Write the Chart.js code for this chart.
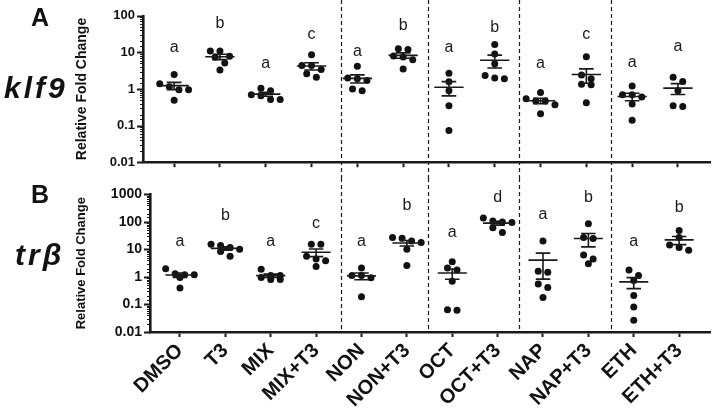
<!DOCTYPE html>
<html>
<head>
<meta charset="utf-8">
<script src="https://cdn.jsdelivr.net/npm/chart.js@4.4.1/dist/chart.umd.min.js"></script>
<style>
  html, body { margin: 0; padding: 0; background: #fff; }
  #wrap { position: relative; width: 715px; height: 417px; }
  .panel { position: absolute; left: 0; width: 715px; }
</style>
</head>
<body>
<div id="wrap">
  <div class="panel" style="top:0;height:178px"><canvas id="chartA"></canvas></div>
  <div class="panel" style="top:178px;height:239px"><canvas id="chartB"></canvas></div>
</div>
<script>
// treatment groups (x axis)
const groups = ['DMSO', 'T3', 'MIX', 'MIX+T3', 'NON', 'NON+T3', 'OCT', 'OCT+T3', 'NAP', 'NAP+T3', 'ETH', 'ETH+T3'];

// klf9 relative fold change, one list per group
const klf9Values = [
  [2.5, 1.4, 1.15, 0.95, 0.95, 0.49],
  [11, 11, 7.8, 7.4, 5.1, 3.3],
  [1.05, 0.9, 0.7, 0.65, 0.52, 0.52],
  [8.6, 4.4, 4.4, 3.4, 2.6, 2.1],
  [4.2, 2.0, 1.9, 1.7, 1.0, 0.9],
  [12.5, 12, 8, 7.5, 6.3, 3.5],
  [2.7, 1.57, 0.9, 0.35, 0.073],
  [16.4, 9, 4.9, 2.35, 2.0, 1.9],
  [0.8, 0.54, 0.47, 0.47, 0.37, 0.21],
  [7.6, 2.4, 1.9, 1.35, 1.3, 0.42],
  [1.2, 0.7, 0.7, 0.6, 0.39, 0.14],
  [2.1, 1.6, 0.9, 0.35, 0.33]
];
const klf9Letters = ['a', 'b', 'a', 'c', 'a', 'b', 'a', 'b', 'a', 'c', 'a', 'a'];
const klf9LetterAt = [13.7, 62, 4.9, 30, 10.8, 55, 13.7, 48, 4.9, 30, 5.2, 14.6];

// trb relative fold change
const trbValues = [
  [2.0, 1.3, 1.2, 1.2, 0.95, 0.4],
  [15.5, 14, 11.7, 10.2, 8.4, 5.6],
  [1.9, 1.12, 1.12, 0.95, 0.81, 0.81],
  [15.5, 15.5, 5.6, 4.5, 3.9, 2.4],
  [2.1, 1.12, 1.12, 0.93, 0.19],
  [27, 25.5, 20.4, 17.7, 10.2, 2.6],
  [3.6, 2.1, 1.8, 0.7, 0.064, 0.062],
  [140, 107, 100, 95, 61, 41],
  [20.4, 1.6, 1.48, 0.56, 0.41, 0.18],
  [85, 27, 25, 6.3, 4.5, 3.0],
  [1.8, 1.12, 0.74, 0.21, 0.081, 0.027],
  [49, 27, 14.6, 11.7, 9.4]
];
const trbLetters = ['a', 'b', 'a', 'c', 'a', 'b', 'a', 'd', 'a', 'b', 'a', 'b'];
const trbLetterAt = [20, 170, 20, 89, 20, 400, 40, 780, 186, 740, 18.7, 340];

// dashed separators between treatment pairs (x units of panel A)
const dividers = [3.65, 5.55, 7.53, 9.53];

const FONT = "'Liberation Sans', Arial, sans-serif";
const INK = '#1a1a1a';

// dot-plot layout: points at about the same height share a row, centred on the group
function spread(vals, tol, step) {
  const order = vals.map((v, k) => k).sort((a, b) => vals[b] - vals[a]);
  const offs = new Array(vals.length).fill(0);
  let row = [];
  const flush = () => {
    row.forEach((k, j) => { offs[k] = (j - (row.length - 1) / 2) * step; });
    row = [];
  };
  order.forEach(k => {
    if (row.length && Math.log10(vals[row[0]]) - Math.log10(vals[k]) > tol) flush();
    row.push(k);
  });
  flush();
  return offs;
}

function toPoints(values, tol) {
  const pts = [];
  values.forEach((vals, i) => {
    const offs = spread(vals, tol, 0.21);
    vals.forEach((v, k) => pts.push({ x: i + offs[k], y: v }));
  });
  return pts;
}

function isDecade(v) {
  const l = Math.log10(v);
  return Math.abs(l - Math.round(l)) < 1e-6;
}

// mean +/- SEM bars and the letters above each group
const groupMarks = {
  id: 'groupMarks',
  afterDatasetsDraw(chart, args, opts) {
    const { ctx } = chart;
    const x = chart.scales.x, y = chart.scales.y;
    ctx.save();
    ctx.strokeStyle = INK;
    ctx.lineWidth = 1.6;
    opts.values.forEach((vals, i) => {
      const n = vals.length;
      const mean = vals.reduce((a, b) => a + b, 0) / n;
      const sd = Math.sqrt(vals.reduce((a, b) => a + (b - mean) ** 2, 0) / (n - 1));
      const sem = sd / Math.sqrt(n);
      const cx = x.getPixelForValue(i);
      const hw = x.getPixelForValue(i + 0.32) - cx;
      const cw = x.getPixelForValue(i + 0.16) - cx;
      const ym = y.getPixelForValue(mean);
      const yt = y.getPixelForValue(mean + sem);
      const yb = y.getPixelForValue(mean - sem);
      ctx.beginPath();
      ctx.moveTo(cx - hw, ym); ctx.lineTo(cx + hw, ym);
      ctx.moveTo(cx - cw, yt); ctx.lineTo(cx + cw, yt);
      ctx.moveTo(cx - cw, yb); ctx.lineTo(cx + cw, yb);
      ctx.moveTo(cx, yt); ctx.lineTo(cx, yb);
      ctx.stroke();
    });
    ctx.fillStyle = INK;
    ctx.font = '16px ' + FONT;
    ctx.textAlign = 'center';
    ctx.textBaseline = 'middle';
    opts.letters.forEach((t, i) => {
      ctx.fillText(t, x.getPixelForValue(i), y.getPixelForValue(opts.letterAt[i]));
    });
    ctx.restore();
  },
  afterDraw(chart) {
    // log axis tick marks: long for decades, short in between
    const { ctx, chartArea } = chart;
    const y = chart.scales.y;
    ctx.save();
    ctx.strokeStyle = INK;
    y.ticks.forEach(t => {
      const py = Math.round(y.getPixelForValue(t.value)) + 0.5;
      const major = isDecade(t.value);
      ctx.lineWidth = major ? 2 : 1;
      ctx.beginPath();
      ctx.moveTo(chartArea.left, py);
      ctx.lineTo(chartArea.left - (major ? 6 : 3), py);
      ctx.stroke();
    });
    ctx.restore();
  }
};

// dashed dividers and the panel labels
const panelDecor = {
  id: 'panelDecor',
  afterDraw(chart, args, opts) {
    const { ctx, chartArea } = chart;
    const xs = opts.dividerScale ? opts.dividerScale() : chart.scales.x;
    ctx.save();
    ctx.strokeStyle = INK;
    ctx.lineWidth = 1.2;
    ctx.setLineDash([4, 3]);
    dividers.forEach(d => {
      const px = Math.round(xs.getPixelForValue(d)) + 0.5;
      ctx.beginPath();
      ctx.moveTo(px, 0);
      ctx.lineTo(px, opts.toBottom ? chart.height : chartArea.bottom);
      ctx.stroke();
    });
    ctx.setLineDash([]);
    ctx.fillStyle = '#111';
    ctx.textBaseline = 'alphabetic';
    ctx.textAlign = 'left';
    ctx.font = 'bold 25px ' + FONT;
    ctx.fillText(opts.letter, opts.letterPos[0], opts.letterPos[1]);
    ctx.font = 'italic bold 30px ' + FONT;
    ctx.letterSpacing = '3px';
    ctx.fillText(opts.gene, opts.genePos[0], opts.genePos[1]);
    ctx.restore();
  }
};

function makeChart(canvasId, values, letters, letterAt, cfg) {
  return new Chart(document.getElementById(canvasId), {
    type: 'scatter',
    data: {
      datasets: [{
        data: toPoints(values, cfg.tol),
        backgroundColor: '#111',
        borderWidth: 0,
        pointRadius: 3.5,
        pointHoverRadius: 3.5
      }]
    },
    options: {
      responsive: true,
      maintainAspectRatio: false,
      animation: false,
      layout: { padding: { left: 70, right: 5, top: cfg.top, bottom: 0 } },
      plugins: {
        legend: { display: false },
        tooltip: { enabled: false },
        groupMarks: { values: values, letters: letters, letterAt: letterAt },
        panelDecor: cfg.decor
      },
      scales: {
        x: {
          type: 'linear',
          min: cfg.xMin,
          max: cfg.xMax,
          afterBuildTicks: s => { s.ticks = groups.map((g, i) => ({ value: i })); },
          afterFit: s => { s.height = cfg.xHeight; },
          ticks: {
            display: cfg.showLabels,
            autoSkip: false,
            minRotation: 45,
            maxRotation: 45,
            padding: 2,
            color: '#111',
            font: { family: FONT, size: 20, weight: 'bold' },
            callback: v => groups[v]
          },
          grid: { drawOnChartArea: false, drawTicks: true, tickLength: 5, tickWidth: 2, tickColor: INK, color: INK },
          border: { display: true, width: 2.6, color: INK }
        },
        y: {
          type: 'logarithmic',
          min: 0.01,
          max: cfg.yMax,
          afterFit: s => { s.width = cfg.yWidth; },
          ticks: {
            autoSkip: false,
            padding: 8,
            color: '#111',
            font: { family: FONT, size: cfg.tickSize, weight: 'bold' },
            callback: v => isDecade(v) ? String(10 ** Math.round(Math.log10(v))) : ''
          },
          grid: { display: false, drawTicks: false },
          border: { display: true, width: 2.6, color: INK },
          title: {
            display: true,
            text: 'Relative Fold Change',
            color: '#111',
            padding: { top: 4, bottom: 4 },
            font: { family: FONT, size: cfg.titleSize, weight: 'bold' }
          }
        }
      }
    },
    plugins: [groupMarks, panelDecor]
  });
}

const chartA = makeChart('chartA', klf9Values, klf9Letters, klf9LetterAt, {
  tol: 0.17, top: 10, xMin: -0.68, xMax: 11.7, xHeight: 15, showLabels: false,
  yMax: 100, yWidth: 73, titleSize: 14, tickSize: 13,
  decor: { letter: 'A', letterPos: [31, 26], gene: 'klf9', genePos: [4, 98], toBottom: true }
});

const chartB = makeChart('chartB', trbValues, trbLetters, trbLetterAt, {
  tol: 0.23, top: 15, xMin: -0.66, xMax: 11.68, xHeight: 85, showLabels: true,
  yMax: 1000, yWidth: 80, titleSize: 13, tickSize: 14,
  decor: { letter: 'B', letterPos: [31, 25], gene: 'trβ', genePos: [15, 87], toBottom: false,
           dividerScale: () => chartA.scales.x }
});
</script>
</body>
</html>
